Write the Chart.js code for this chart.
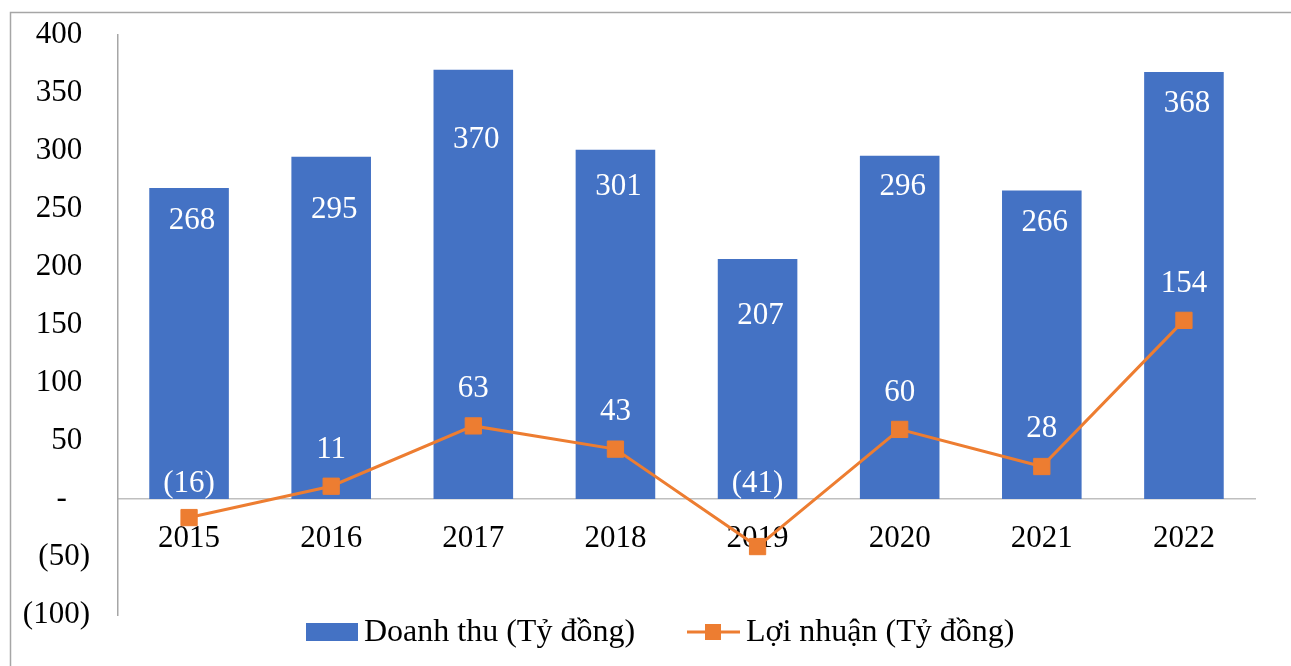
<!DOCTYPE html>
<html>
<head>
<meta charset="utf-8">
<script src="https://cdn.jsdelivr.net/npm/chart.js@4/dist/chart.umd.min.js"></script>
<style>
  html, body { margin: 0; padding: 0; background: #fff; }
  #wrap { position: relative; width: 1291px; height: 666px; }
</style>
</head>
<body>
<div id="wrap"><canvas id="chart" width="1291" height="666"></canvas></div>
<script>
const years = ["2015", "2016", "2017", "2018", "2019", "2020", "2021", "2022"];
const revenue = [268, 295, 370, 301, 207, 296, 266, 368];
const profit = [-16, 11, 63, 43, -41, 60, 28, 154];

const revenueName = "Doanh thu (Tỷ đồng)";
const profitName = "Lợi nhuận (Tỷ đồng)";

// label nudges (px) as placed in the original
const revenueLabelDy = [33, 53, 70, 37, 57, 31, 32, 32];
const profitLabelDy = [-34, -36, -37, -37, -63, -37, -38, -37];

const BLUE = "#4472C4";
const ORANGE = "#ED7D31";
const FONT = "'Liberation Serif', 'Times New Roman', serif";
const FS = 31;

// accounting style: 400 / - / (50)
function fmt(v) {
  if (v === 0) return "-   ";
  if (v < 0) return "(" + Math.abs(v) + ")";
  return v + " ";
}

const framePlugin = {
  id: "frame",
  beforeDraw(chart) {
    const ctx = chart.ctx;
    ctx.save();
    ctx.strokeStyle = "#a6a6a6";
    ctx.lineWidth = 1.5;
    ctx.beginPath();
    ctx.moveTo(10.5, 700);
    ctx.lineTo(10.5, 12.5);
    ctx.lineTo(1300, 12.5);
    ctx.stroke();
    ctx.restore();
  },
};

const labelPlugin = {
  id: "valueLabels",
  afterDatasetsDraw(chart) {
    const ctx = chart.ctx;
    const bars = chart.data.datasets.findIndex((d) => d.type === "bar");
    const line = chart.data.datasets.findIndex((d) => d.type === "line");
    ctx.save();
    ctx.font = `${FS}px ${FONT}`;
    ctx.fillStyle = "#fff";
    ctx.textAlign = "center";
    ctx.textBaseline = "middle";
    chart.getDatasetMeta(bars).data.forEach((el, i) => {
      ctx.fillText(fmt(revenue[i]).trim(), el.x + 3, el.y + revenueLabelDy[i]);
    });
    chart.getDatasetMeta(line).data.forEach((el, i) => {
      ctx.fillText(fmt(profit[i]).trim(), el.x, el.y + profitLabelDy[i]);
    });
    ctx.restore();
  },
};

const legendPlugin = {
  id: "customLegend",
  afterDraw(chart) {
    const ctx = chart.ctx;
    const y = 632;
    ctx.save();
    ctx.font = `32px ${FONT}`;
    ctx.textBaseline = "middle";

    ctx.fillStyle = BLUE;
    ctx.fillRect(306, y - 9, 52, 18);
    ctx.fillStyle = "#000";
    ctx.fillText(revenueName, 364, y + 1);

    ctx.strokeStyle = ORANGE;
    ctx.lineWidth = 3;
    ctx.beginPath();
    ctx.moveTo(687, y);
    ctx.lineTo(740, y);
    ctx.stroke();
    ctx.fillStyle = ORANGE;
    ctx.fillRect(705, y - 8, 16, 16);
    ctx.fillStyle = "#000";
    ctx.fillText(profitName, 746, y + 1);
    ctx.restore();
  },
};

function noPad(scale) {
  scale.paddingTop = 0;
  scale.paddingBottom = 0;
}

new Chart(document.getElementById("chart"), {
  data: {
    labels: years,
    datasets: [
      {
        type: "line",
        label: profitName,
        data: profit,
        borderColor: ORANGE,
        backgroundColor: ORANGE,
        borderWidth: 3,
        pointStyle: "rect",
        pointRadius: 11.5,
        pointBorderWidth: 1,
        pointBackgroundColor: ORANGE,
        pointBorderColor: ORANGE,
        tension: 0,
        order: 1,
      },
      {
        type: "bar",
        label: revenueName,
        data: revenue,
        backgroundColor: BLUE,
        barPercentage: 0.56,
        categoryPercentage: 1,
        order: 2,
      },
    ],
  },
  options: {
    responsive: false,
    animation: false,
    layout: { padding: { left: 0, right: 36, top: 35, bottom: 51 } },
    plugins: {
      legend: { display: false },
      tooltip: { enabled: false },
    },
    scales: {
      x: {
        position: { y: 0 },
        offset: true,
        grid: { display: false, drawTicks: false },
        border: { display: true, color: "#bfbfbf", width: 1.5 },
        ticks: {
          color: "#000",
          font: { family: FONT, size: FS },
          padding: 21,
          maxRotation: 0,
        },
        afterFit: noPad,
      },
      y: {
        min: -100,
        max: 400,
        grid: { display: false, drawTicks: false },
        border: { display: true, color: "#a6a6a6", width: 1.5 },
        ticks: {
          stepSize: 50,
          color: "#000",
          font: { family: FONT, size: FS },
          padding: 28,
          callback: (v) => fmt(v),
        },
        afterFit(scale) {
          scale.width = 118;
          noPad(scale);
        },
      },
    },
  },
  plugins: [framePlugin, labelPlugin, legendPlugin],
});
</script>
</body>
</html>
